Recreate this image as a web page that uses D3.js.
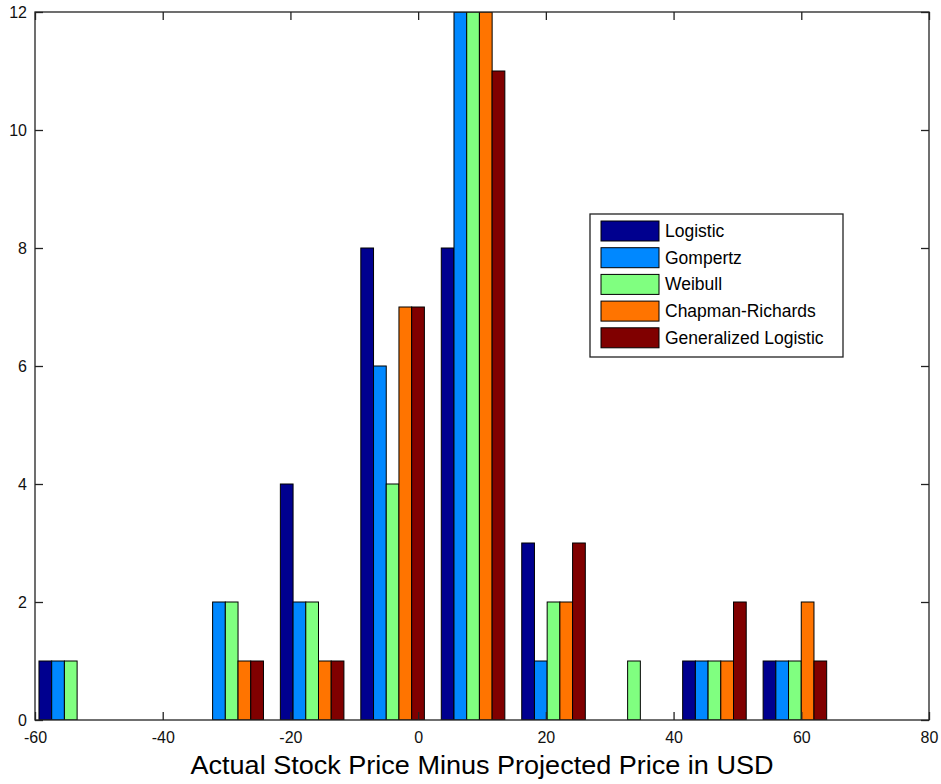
<!DOCTYPE html>
<html><head><meta charset="utf-8">
<script src="https://cdn.jsdelivr.net/npm/d3@7"></script>
<style>body{margin:0;background:#fff;} text{font-family:"Liberation Sans",Arial,sans-serif;}</style>
</head><body>
<svg id="c" width="941" height="784"></svg>
<script>
const binCenters = [-54.4, -41.8, -29.2, -16.6, -4.0, 8.6, 21.2, 33.8, 46.4, 59.0];
const seriesNames = ["Logistic", "Gompertz", "Weibull", "Chapman-Richards", "Generalized Logistic"];
const logistic   = [1, 0, 0, 4, 8, 8, 3, 0, 1, 1];
const gompertz   = [1, 0, 2, 2, 6, 12, 1, 0, 1, 1];
const weibull    = [1, 0, 2, 2, 4, 12, 2, 1, 1, 1];
const chapman    = [0, 0, 1, 1, 7, 12, 2, 0, 1, 2];
const genLogistic= [0, 0, 1, 1, 7, 11, 3, 0, 2, 1];
const colors = ["#00008f", "#0088ff", "#80ff80", "#ff7400", "#800000"];
const xTicks = [-60, -40, -20, 0, 20, 40, 60, 80];
const yTicks = [0, 2, 4, 6, 8, 10, 12];
const xLabel = "Actual Stock Price Minus Projected Price in USD";

const series = [logistic, gompertz, weibull, chapman, genLogistic];
const svg = d3.select("#c");
const L = 35, R = 929, T = 12, B = 720;
const x = d3.scaleLinear().domain([-60, 80]).range([L, R]);
const y = d3.scaleLinear().domain([0, 12]).range([B, T]);

svg.append("defs").append("clipPath").attr("id","clip")
  .append("rect").attr("x",L).attr("y",T).attr("width",R-L).attr("height",B-T);

const step = binCenters[1]-binCenters[0];
const groupW = step*0.79;
const bw = groupW/series.length;
const g = svg.append("g").attr("clip-path","url(#clip)");
series.forEach((vals,si)=>{
  vals.forEach((v,bi)=>{
    if(v<=0) return;
    const x0 = binCenters[bi] - groupW/2 + si*bw;
    g.append("rect")
      .attr("x", x(x0)).attr("width", x(x0+bw)-x(x0))
      .attr("y", y(v)).attr("height", y(0)-y(v))
      .attr("fill", colors[si]).attr("stroke","#000").attr("stroke-width",1);
  });
});

// axes box
svg.append("rect").attr("x",L).attr("y",T).attr("width",R-L).attr("height",B-T)
  .attr("fill","none").attr("stroke","#222").attr("stroke-width",1.3);

const tl = 8;
const fmt = d => String(d);
const xb = d3.axisBottom(x).tickValues(xTicks).tickSizeInner(-tl).tickSizeOuter(0).tickPadding(17).tickFormat(fmt);
const xa = svg.append("g").attr("transform",`translate(0,${B})`).call(xb);
const xt = d3.axisTop(x).tickValues(xTicks).tickSizeInner(-tl).tickSizeOuter(0).tickFormat("");
const xta = svg.append("g").attr("transform",`translate(0,${T})`).call(xt);
const yl = d3.axisLeft(y).tickValues(yTicks).tickSizeInner(-tl).tickSizeOuter(0).tickPadding(8).tickFormat(fmt);
const ya = svg.append("g").attr("transform",`translate(${L},0)`).call(yl);
const yr = d3.axisRight(y).tickValues(yTicks).tickSizeInner(-tl).tickSizeOuter(0).tickFormat("");
const yra = svg.append("g").attr("transform",`translate(${R},0)`).call(yr);
[xa,xta,ya,yra].forEach(a=>{
  a.attr("font-size",16).attr("font-family","'Liberation Sans',Arial,sans-serif");
  a.select(".domain").remove();
  a.selectAll("line").attr("stroke","#222").attr("stroke-width",1.3);
  a.selectAll("text").attr("font-size",16).attr("fill","#111");
});
xa.selectAll(".tick text").attr("dy","0.35em");

svg.append("text").attr("x",(L+R)/2).attr("y",774).attr("text-anchor","middle")
  .attr("font-size",25.5).attr("fill","#000")
  .attr("textLength",583).attr("lengthAdjust","spacingAndGlyphs").text(xLabel);

// legend
const lg = svg.append("g");
lg.append("rect").attr("x",590).attr("y",214).attr("width",253).attr("height",143)
  .attr("fill","#fff").attr("stroke","#222").attr("stroke-width",1.3);
seriesNames.forEach((n,i)=>{
  const yy = 221 + i*26.7;
  lg.append("rect").attr("x",601).attr("y",yy).attr("width",58).attr("height",20)
    .attr("fill",colors[i]).attr("stroke","#000").attr("stroke-width",1);
  lg.append("text").attr("x",665).attr("y",yy+16).attr("font-size",17.5).attr("fill","#000").text(n);
});
</script>
</body></html>
